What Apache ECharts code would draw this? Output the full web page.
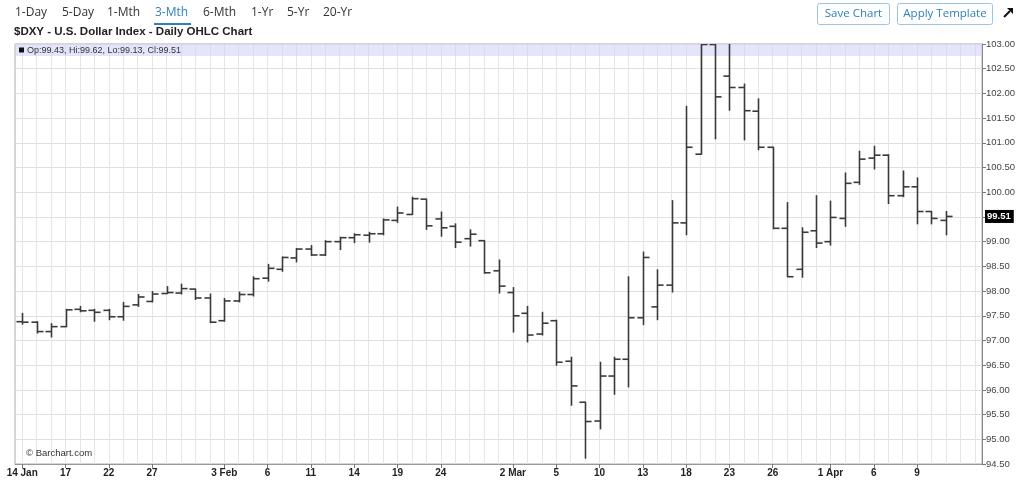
<!DOCTYPE html>
<html><head><meta charset="utf-8">
<script src="https://cdn.jsdelivr.net/npm/echarts@6/dist/echarts.min.js"></script>
<style>html,body{margin:0;padding:0;background:#fff}#c{width:1024px;height:491px}</style>
</head><body><div id="c"></div>
<script>
const dates = [
 '14 Jan','15 Jan','16 Jan','17 Jan','20 Jan','21 Jan','22 Jan','23 Jan','24 Jan','27 Jan','28 Jan','29 Jan','30 Jan','31 Jan',
 '3 Feb','4 Feb','5 Feb','6 Feb','7 Feb','10 Feb','11 Feb','12 Feb','13 Feb','14 Feb','17 Feb','18 Feb','19 Feb','20 Feb','21 Feb','24 Feb','25 Feb','26 Feb','27 Feb','28 Feb',
 '2 Mar','3 Mar','4 Mar','5 Mar','6 Mar','9 Mar','10 Mar','11 Mar','12 Mar','13 Mar','16 Mar','17 Mar','18 Mar','19 Mar','20 Mar','23 Mar','24 Mar','25 Mar','26 Mar','27 Mar','30 Mar','31 Mar',
 '1 Apr','2 Apr','3 Apr','6 Apr','7 Apr','8 Apr','9 Apr','10 Apr','13 Apr'
];
const opens = [
 97.38,97.37,97.18,97.28,97.63,97.61,97.61,97.48,97.72,97.79,97.95,97.96,98.04,97.86,
 97.40,97.80,97.93,98.26,98.44,98.67,98.85,98.73,99.00,99.08,99.13,99.16,99.43,99.55,99.86,99.46,99.31,99.06,99.02,98.41,
 97.97,97.55,97.13,97.40,96.58,95.75,95.37,96.28,96.62,97.46,97.68,98.12,99.38,100.77,102.99,102.35,102.12,101.64,100.91,99.27,98.44,99.22,
 99.00,99.47,100.20,100.69,100.75,99.93,100.11,99.61,99.43
];
const highs = [
 97.56,97.39,97.35,97.64,97.70,97.64,97.64,97.78,97.94,98.00,98.10,98.15,98.05,97.95,
 97.86,97.99,98.30,98.55,98.70,98.87,98.93,99.03,99.10,99.17,99.20,99.47,99.71,99.91,99.87,99.61,99.37,99.25,99.03,98.64,
 98.08,97.70,97.58,97.42,96.67,95.76,96.57,96.67,98.30,98.80,98.44,99.84,101.75,103.00,103.00,103.00,102.20,101.90,100.92,99.80,99.29,99.94,
 99.83,100.40,100.84,100.94,100.77,100.44,100.30,99.62,99.62
];
const lows = [
 97.32,97.14,97.06,97.27,97.57,97.38,97.41,97.40,97.68,97.77,97.94,97.93,97.82,97.35,
 97.38,97.77,97.89,98.19,98.39,98.58,98.71,98.71,98.83,98.97,98.98,99.13,99.38,99.54,99.24,99.10,98.87,98.90,98.35,97.95,
 97.16,96.96,97.10,96.49,95.68,94.61,95.20,95.90,96.05,97.31,97.41,97.97,99.13,100.76,101.07,101.65,101.05,100.85,99.25,98.28,98.27,98.87,
 98.92,99.30,100.15,100.46,99.76,99.90,99.35,99.35,99.13
];
const closes = [
 97.37,97.18,97.28,97.62,97.60,97.57,97.48,97.69,97.88,97.94,97.97,98.05,97.86,97.37,
 97.80,97.93,98.25,98.46,98.68,98.85,98.73,99.00,99.08,99.14,99.16,99.44,99.58,99.87,99.32,99.28,98.99,99.15,98.37,98.10,
 97.50,97.11,97.35,96.56,96.08,95.36,96.28,96.62,97.46,98.68,98.12,99.38,100.91,102.99,101.93,102.12,101.65,100.91,99.27,98.29,99.19,98.97,
 99.49,100.18,100.67,100.75,99.93,100.11,99.61,99.47,99.51
];
const padCats = [' ', '  '];
const tickDates = ['14 Jan','17 Jan','22 Jan','27 Jan','3 Feb','6 Feb','11 Feb','14 Feb','19 Feb','24 Feb','2 Mar','5 Mar','10 Mar','13 Mar','18 Mar','23 Mar','26 Mar','1 Apr','6 Apr','9 Apr'];
const tickTexts = ['14 Jan','17','22','27','3 Feb','6','11','14','19','24','2 Mar','5','10','13','18','23','26','1 Apr','6','9'];
const rangeTabs = ['1-Day','5-Day','1-Mth','3-Mth','6-Mth','1-Yr','5-Yr','20-Yr'];
const activeTab = '3-Mth';
const yMin = 94.5, yMax = 103, yStep = 0.5;
const titleText = '$DXY - U.S. Dollar Index - Daily OHLC Chart';

const chart = echarts.init(document.getElementById('c'), null, {renderer: 'canvas'});
const ohlc = dates.map((d, i) => [i, opens[i], highs[i], lows[i], closes[i]]);
const isTick = (idx, val) => tickDates.indexOf(val) >= 0;
const FONT = 'Liberation Sans, Arial, sans-serif';
const UI = 'Open Sans, Noto Sans, sans-serif';

const tabX = [15, 62, 107, 155, 203, 251, 287, 323];
const graphics = [];
rangeTabs.forEach((t, i) => {
  graphics.push({type:'text', left: tabX[i], top: 7, z: 10,
    style:{text:t, font:'12px ' + UI, fill: t === activeTab ? '#2f7fc1' : '#333'}});
});
graphics.push({type:'rect', shape:{x:154, y:23, width:37, height:2}, style:{fill:'#2f7fc1'}, z:10});
graphics.push({type:'text', left: 14, top: 26, z:10, style:{text:titleText, font:'bold 11.5px ' + FONT, fill:'#222'}});
// buttons
[['Save Chart', 817, 72], ['Apply Template', 897, 95]].forEach(b => {
  graphics.push({type:'rect', shape:{x:b[1]+0.5, y:3.5, width:b[2], height:21, r:2}, style:{fill:'#fff', stroke:'#9cc4e4', lineWidth:1}, z:10});
  graphics.push({type:'text', x:b[1] + b[2]/2 + 0.5, y:14, z:11, style:{text:b[0], font:'11.5px ' + UI, fill:'#2f7fc1', align:'center', verticalAlign:'middle'}});
});
// arrow icon
graphics.push({type:'line', shape:{x1:1004, y1:17, x2:1010, y2:11}, style:{stroke:'#111', lineWidth:2}, z:10});
graphics.push({type:'polygon', shape:{points:[[1013,8],[1013,14],[1007,8]]}, style:{fill:'#111'}, z:10});
// header band in plot
graphics.push({type:'rect', shape:{x:15, y:44, width:967, height:12}, style:{fill:'rgba(205,205,248,0.55)'}, z:1});
graphics.push({type:'rect', shape:{x:19, y:47.5, width:5, height:5}, style:{fill:'#111'}, z:11});
const last = dates.length - 1;
graphics.push({type:'text', x:27, y:50.5, z:11, style:{
  text:'Op:' + opens[last].toFixed(2) + ', Hi:' + highs[last].toFixed(2) + ', Lo:' + lows[last].toFixed(2) + ', Cl:' + closes[last].toFixed(2),
  font:'9px ' + FONT, fill:'#333', verticalAlign:'middle'}});
graphics.push({type:'text', x:26, y:453, z:11, style:{text:'\u00a9 Barchart.com', font:'9.5px ' + FONT, fill:'#333', verticalAlign:'middle'}});

chart.setOption({
  animation: false,
  backgroundColor: '#fff',
  grid: {left: 15, right: 42, top: 44, bottom: 27, show: true, borderColor: '#aaa', borderWidth: 1},
  xAxis: {
    type: 'category', data: dates.concat(padCats), boundaryGap: true,
    axisLine: {show: true, lineStyle: {color: '#999'}},
    axisTick: {show: true, alignWithLabel: true, interval: isTick, length: 4, lineStyle: {color: '#777'}},
    axisLabel: {interval: isTick, formatter: v => tickTexts[tickDates.indexOf(v)] || '', margin: 4,
      font: 'bold 10px ' + FONT, fontFamily: FONT, fontSize: 10, fontWeight: 'bold', color: '#222'},
    splitLine: {show: true, interval: 0, alignWithLabel: true, lineStyle: {color: '#e6e6e6', width: 1}}
  },
  yAxis: {
    type: 'value', position: 'right', min: yMin, max: yMax, interval: yStep, scale: true,
    axisLine: {show: true, lineStyle: {color: '#888'}},
    axisTick: {show: true, length: 4, lineStyle: {color: '#777'}},
    axisLabel: {formatter: v => v.toFixed(2), fontFamily: FONT, fontSize: 9.5, color: '#444', margin: 4},
    splitLine: {show: true, lineStyle: {color: '#e0e0e0', width: 1}}
  },
  graphic: graphics,
  series: [{
    type: 'custom', z: 5, clip: true,
    data: ohlc,
    encode: {x: 0, y: [1, 2, 3, 4]},
    renderItem: function (params, api) {
      const x = api.value(0);
      const o = api.coord([x, api.value(1)]);
      const h = api.coord([x, api.value(2)]);
      const l = api.coord([x, api.value(3)]);
      const c = api.coord([x, api.value(4)]);
      const w = api.size([1, 0])[0] * 0.42;
      const cx = Math.round(o[0]) + 0.5;
      const st = {stroke: '#3a3a3a', lineWidth: 1.6};
      return {type: 'group', children: [
        {type: 'line', shape: {x1: cx, y1: h[1], x2: cx, y2: l[1]}, style: st},
        {type: 'line', shape: {x1: cx - w, y1: o[1], x2: cx, y2: o[1]}, style: st},
        {type: 'line', shape: {x1: cx, y1: c[1], x2: cx + w, y2: c[1]}, style: st}
      ]};
    }
  }]
});

const py = chart.convertToPixel({yAxisIndex: 0}, closes[last]);
graphics.push({type:'text', x: 985, y: py, z: 20, style:{
  text: closes[last].toFixed(2), font: 'bold 9.5px ' + FONT, fill: '#fff', backgroundColor: '#000',
  padding: [2, 3, 1, 2], verticalAlign: 'middle'}});
chart.setOption({graphic: graphics});
</script></body></html>
